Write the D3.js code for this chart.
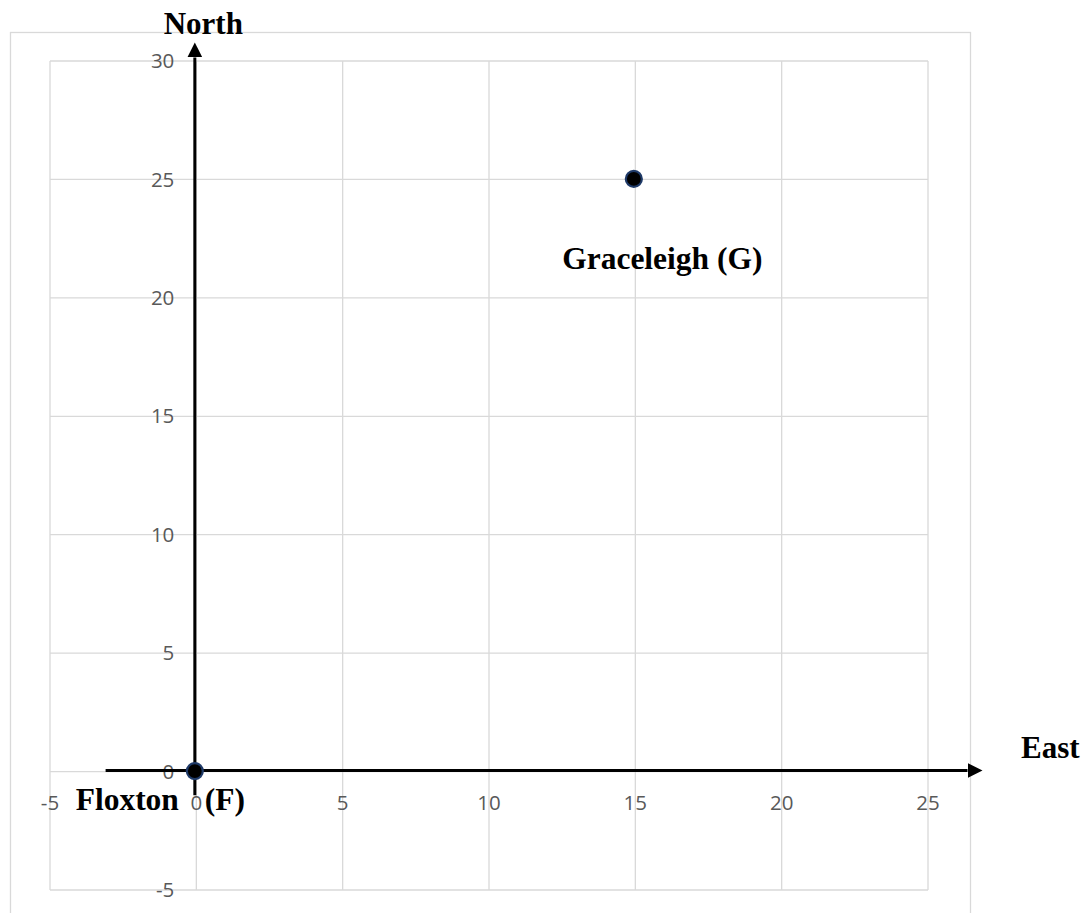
<!DOCTYPE html>
<html><head><meta charset="utf-8">
<script src="https://cdn.jsdelivr.net/npm/d3@7"></script>
<style>body{margin:0;background:#fff;}svg{display:block;}</style>
</head><body>
<svg id="c" width="1084" height="913"></svg>
<script>
const xTicks = [-5, 0, 5, 10, 15, 20, 25];
const yTicks = [-5, 0, 5, 10, 15, 20, 25, 30];
const pointNames = ["Floxton (F)", "Graceleigh (G)"];
const pointX = [0, 15];
const pointY = [0, 25];
const axisNames = ["East", "North"];

const svg = d3.select("#c");
const x = d3.scaleLinear().domain([-5, 25]).range([50, 928]);
const y = d3.scaleLinear().domain([-5, 30]).range([890, 61]);
const grid = "#d9d9d9";

// outer chart border
svg.append("rect").attr("x", 10.5).attr("y", 32.5).attr("width", 960).attr("height", 900)
  .attr("fill", "none").attr("stroke", grid).attr("stroke-width", 1.3);

// grid
svg.append("g").selectAll("line").data(xTicks).join("line")
  .attr("x1", d => x(d)).attr("x2", d => x(d)).attr("y1", y(-5)).attr("y2", y(30))
  .attr("stroke", grid).attr("stroke-width", 1.3);
svg.append("g").selectAll("line").data(yTicks).join("line")
  .attr("y1", d => y(d)).attr("y2", d => y(d)).attr("x1", x(-5)).attr("x2", x(25))
  .attr("stroke", grid).attr("stroke-width", 1.3);

// tick labels
const tickFont = "'Open Sans', sans-serif";
svg.append("g").selectAll("text").data(xTicks).join("text")
  .attr("x", d => x(d)).attr("y", y(0) + 31).attr("dy", "0.35em").attr("dy", 7).attr("text-anchor", "middle")
  .attr("font-family", tickFont).attr("font-size", 20.5).attr("fill", "#595959")
  .text(d => d);
svg.append("g").selectAll("text").data(yTicks).join("text")
  .attr("x", x(0) - 22).attr("y", d => y(d)).attr("dy", "0.35em").attr("text-anchor", "end")
  .attr("font-family", tickFont).attr("font-size", 20.5).attr("fill", "#595959")
  .text(d => d);

// axis arrows
const defs = svg.append("defs");
defs.append("marker").attr("id", "arr").attr("viewBox", "0 0 10 10").attr("refX", 0).attr("refY", 5)
  .attr("markerWidth", 5).attr("markerHeight", 5).attr("markerUnits", "strokeWidth").attr("orient", "auto")
  .append("path").attr("d", "M0,0 L10,5 L0,10 Z").attr("fill", "#000");

svg.append("line").attr("x1", x(-3.1)).attr("x2", x(26.35)).attr("y1", y(0) - 1).attr("y2", y(0) - 1)
  .attr("stroke", "#000").attr("stroke-width", 3).attr("marker-end", "url(#arr)");
svg.append("line").attr("x1", x(0) - 1.5).attr("x2", x(0) - 1.5).attr("y1", y(-1)).attr("y2", y(30.15))
  .attr("stroke", "#000").attr("stroke-width", 3).attr("marker-end", "url(#arr)");

// axis names
const serif = "'Liberation Serif', 'Times New Roman', serif";
svg.append("text").attr("x", 1021).attr("y", 758).attr("font-family", serif).attr("font-weight", "bold")
  .attr("font-size", 31).attr("fill", "#000").text(axisNames[0]);
svg.append("text").attr("x", x(0) + 7).attr("y", 34).attr("text-anchor", "middle").attr("font-family", serif)
  .attr("font-weight", "bold").attr("font-size", 31).attr("fill", "#000").text(axisNames[1]);

// points
const pts = pointNames.map((n, i) => ({ name: n, x: pointX[i], y: pointY[i] }));
svg.append("g").selectAll("circle").data(pts).join("circle")
  .attr("cx", d => x(d.x) - 1.5).attr("cy", d => y(d.y) - 0.5).attr("r", 8)
  .attr("fill", "#000").attr("stroke", "#1f3a68").attr("stroke-width", 2.2);

// point labels
const labelDx = [-36, 27];
const labelDy = [38, 90];
const wordSp = [18, 0];
svg.append("g").selectAll("text").data(pts).join("text")
  .attr("x", (d, i) => x(d.x) + labelDx[i]).attr("y", (d, i) => y(d.y) + labelDy[i])
  .attr("text-anchor", "middle").attr("font-family", serif).attr("font-weight", "bold")
  .attr("font-size", 31.5).attr("fill", "#000")
  .attr("word-spacing", (d, i) => wordSp[i])
  .text(d => d.name);
</script>
</body></html>
